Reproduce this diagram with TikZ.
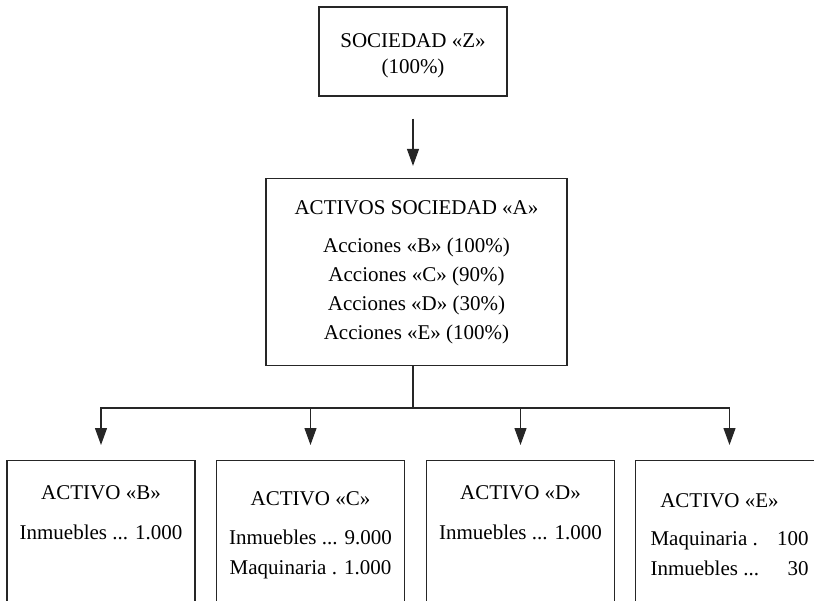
\documentclass[tikz,border=0pt]{standalone}
\usepackage{fontspec}
\setmainfont{Liberation Serif}
\usetikzlibrary{arrows.meta}

\tikzstyle{block}=[rectangle,
    draw=black!85,
    line width=1.2pt,
    inner sep=0pt,
    align=center,
    font=\fontsize{21}{29}\selectfont]
\tikzstyle{activo}=[block,
    minimum width=188pt,
    minimum height=170pt,
    anchor=north]
\tikzstyle{txt}=[inner sep=0pt, anchor=north, align=center,
    font=\fontsize{21}{29}\selectfont]
\tikzstyle{line}=[draw=black!85, line width=1.2pt]
\tikzstyle{arr}=[line, -{Triangle[width=12pt,length=17pt]}]

\begin{document}
\begin{tikzpicture}[x=1pt,y=-1pt]
    \useasboundingbox (0,0) rectangle (814,600);
    \clip (0,0) rectangle (814,600);

    \node (z) [block, minimum width=188pt, minimum height=89pt] at (413,51.5)
        {SOCIEDAD «Z»\rule{0pt}{21.5pt}\\[-3pt](100\%)};
    \node (a) [block, minimum width=301pt, minimum height=187pt] at (416.5,272)
        {ACTIVOS SOCIEDAD «A»\\[9pt]Acciones «B» (100\%)\\Acciones «C» (90\%)\\
         Acciones «D» (30\%)\\Acciones «E» (100\%)};

    % activos de las filiales
    \node (b) [activo] at (101,460) {};
    \node (c) [activo] at (310.5,460) {};
    \node (d) [activo] at (520.5,460) {};
    \node (e) [activo] at (729.5,460) {};

    \node (tb) [txt] at ([yshift=-25pt]b.north) {ACTIVO «B»\\[11pt]Inmuebles ... 1.000};
    \node (tc) [txt] at ([yshift=-31pt]c.north)
        {ACTIVO «C»\\[10pt]Inmuebles ... 9.000\\[1pt]Maquinaria\ . 1.000};
    \node (td) [txt] at ([yshift=-25pt]d.north) {ACTIVO «D»\\[11pt]Inmuebles ... 1.000};
    \node (te) [txt] at ([yshift=-33pt]e.north)
        {ACTIVO «E»\hspace*{20pt}\\[9pt]\begin{tabular}[t]{@{}l@{\hspace{18pt}}r@{}}
         Maquinaria\ . & 100\\[1pt] Inmuebles ... & 30\end{tabular}};

    \coordinate (bar) at (413,408);
    \draw [arr, shorten <=22pt, shorten >=12pt] (z.south) -- (z.south |- a.north);
    \draw [line] (z.south |- a.south) -- (bar);
    \foreach \n in {b,c,d,e}
        \draw [arr, shorten >=15pt] (bar) -| (\n.north);
\end{tikzpicture}
\end{document}
